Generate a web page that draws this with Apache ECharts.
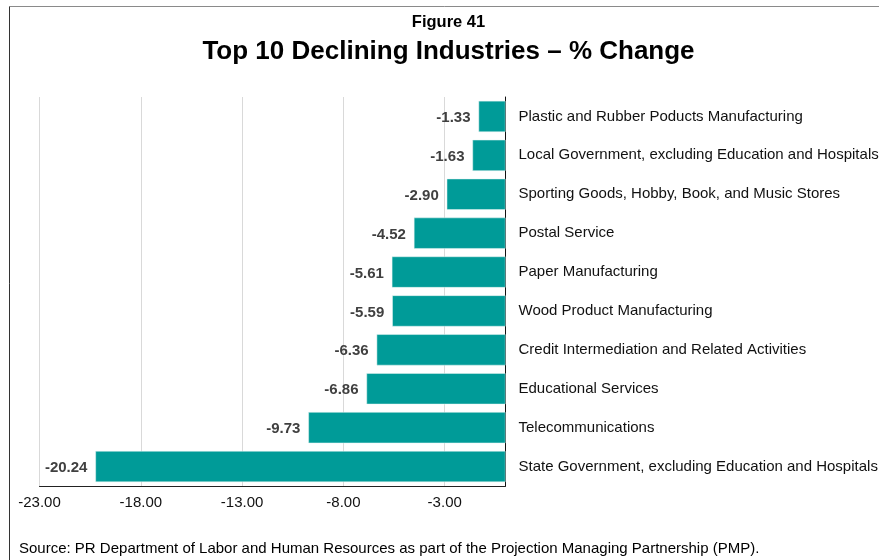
<!DOCTYPE html>
<html>
<head>
<meta charset="utf-8">
<script src="https://cdn.jsdelivr.net/npm/echarts@6/dist/echarts.min.js"></script>
<style>
html,body{margin:0;padding:0;background:#fff;}
#chart{width:879px;height:560px;}
</style>
</head>
<body>
<div id="chart"></div>
<script>
const categories = [
  "Plastic and Rubber Poducts Manufacturing",
  "Local Government, excluding Education and Hospitals",
  "Sporting Goods, Hobby, Book, and Music Stores",
  "Postal Service",
  "Paper Manufacturing",
  "Wood Product Manufacturing",
  "Credit Intermediation and Related Activities",
  "Educational Services",
  "Telecommunications",
  "State Government, excluding Education and Hospitals"
];
const values = [-1.33, -1.63, -2.90, -4.52, -5.61, -5.59, -6.36, -6.86, -9.73, -20.24];
const tickValues = [-23, -18, -13, -8, -3];
const figureLabel = "Figure 41";
const titleText = "Top 10 Declining Industries – % Change";
const sourceText = "Source: PR Department of Labor and Human Resources as part of the Projection Managing Partnership (PMP).";

const FONT = "'Liberation Sans', Arial, sans-serif";
const chart = echarts.init(document.getElementById('chart'), null, {renderer: 'canvas'});
chart.setOption({
  animation: false,
  backgroundColor: '#fff',
  textStyle: {fontFamily: FONT},
  graphic: [
    {type: 'line', shape: {x1: 9.5, y1: 6.5, x2: 900, y2: 6.5}, style: {stroke: '#8a8a8a', lineWidth: 1}},
    {type: 'line', shape: {x1: 9.5, y1: 6.5, x2: 9.5, y2: 600}, style: {stroke: '#333', lineWidth: 1}},
    {type: 'text', top: 14, style: {text: figureLabel, font: "bold 16.5px " + FONT, fill: '#000', x: 448.5, textAlign: 'center'}},
    {type: 'text', top: 39, style: {text: titleText, font: "bold 26px " + FONT, fill: '#000', x: 448.5, textAlign: 'center'}},
    {type: 'text', left: 19, top: 541, style: {text: sourceText, font: "15px " + FONT, fill: '#000'}}
  ],
  grid: {left: 39.5, right: 373.5, top: 97, bottom: 74, containLabel: false, outerBoundsMode: 'none'},
  xAxis: {
    type: 'value', min: -23, max: 0,
    axisLine: {show: true, lineStyle: {color: '#222', width: 1}},
    axisTick: {show: false, customValues: tickValues},
    axisLabel: {customValues: tickValues, formatter: v => v.toFixed(2), color: '#111', fontSize: 15, margin: 9, fontFamily: FONT},
    splitLine: {show: true, lineStyle: {color: '#d9d9d9', width: 1}}
  },
  yAxis: {
    type: 'category', data: categories, inverse: true, position: 'right',
    axisLine: {show: true, onZero: false, lineStyle: {color: '#111', width: 1}},
    axisTick: {show: false},
    axisLabel: {color: '#111', fontSize: 15, margin: 13, fontFamily: FONT, padding: [3, 0, 0, 0]},
    splitLine: {show: false}
  },
  series: [{
    type: 'bar', data: values, barCategoryGap: '20%',
    itemStyle: {color: '#009B98', borderColor: '#e6f4f3', borderWidth: 0.5},
    label: {show: true, position: 'left', distance: 8, offset: [0, 1.5], formatter: p => p.value.toFixed(2),
      color: '#404040', fontWeight: 'bold', fontSize: 15, fontFamily: FONT}
  }]
});
</script>
</body>
</html>
